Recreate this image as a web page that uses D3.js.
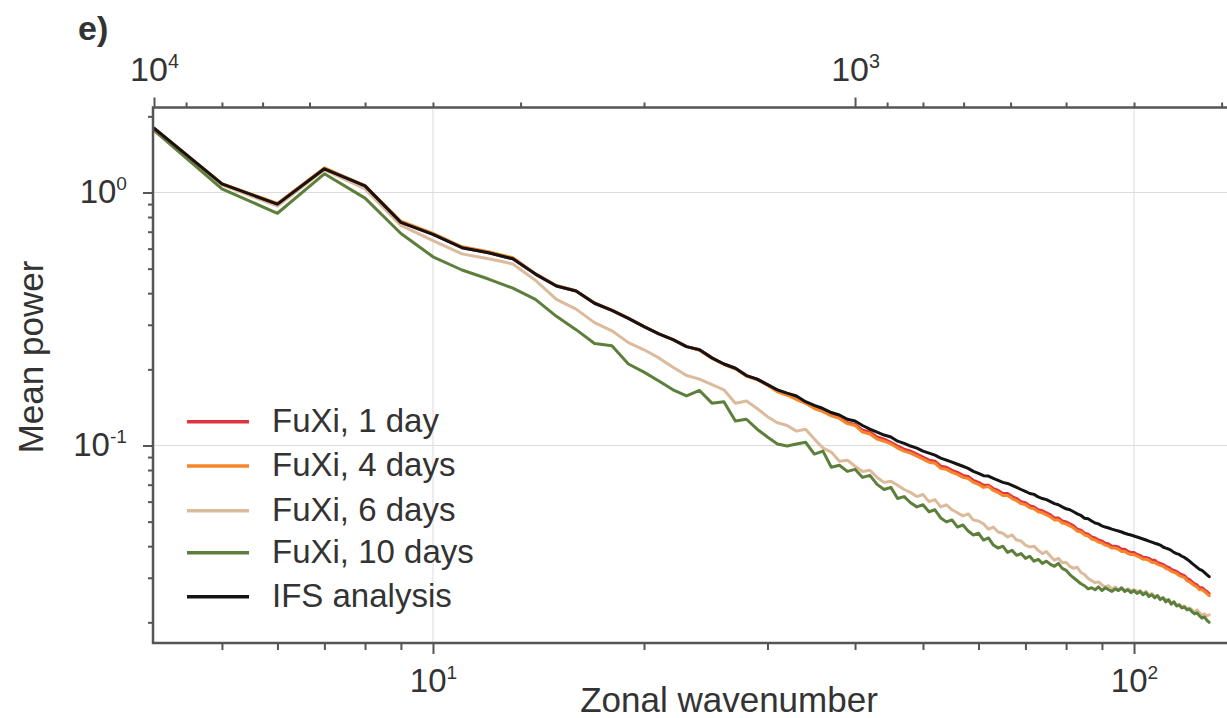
<!DOCTYPE html>
<html><head><meta charset="utf-8">
<script src="https://cdn.jsdelivr.net/npm/d3@7"></script>
<style>
body{margin:0;background:#fff}
svg{display:block}
text{font-family:"Liberation Sans",Arial,Helvetica,sans-serif;fill:#333}
</style>
</head><body>
<svg id="chart" width="1227" height="718"></svg>
<script>
// ---------- DATA ----------
const wavenumbers = [4,5,6,7,8,9,10,11,12,13,14,15,16,17,18,19,20,21,22,23,24,25,26,27,28,29,30,
31,32,33,34,35,36,37,38,39,40,41,42,43,44,45,46,47,48,49,50,51,52,53,54,55,56,57,58,59,60,
61,62,63,64,65,66,67,68,69,70,71,72,73,74,75,76,77,78,79,80,81,82,83,84,85,86,87,88,89,90,
91,92,93,94,95,96,97,98,99,100,101,102,103,104,105,106,107,108,109,110,111,112,113,114,115,116,117,118,119,120,
121,122,123,124,125,126,127,128];

const fuxi1day = [1.795,1.082,0.900,1.241,1.062,0.762,0.683,0.605,0.578,0.547,0.476,0.427,0.408,0.365,0.342,0.318,0.295,0.276,0.262,0.246,0.239,0.222,0.210,0.202,0.189,0.183,0.174,
0.165,0.160,0.153,0.147,0.142,0.137,0.132,0.129,0.123,0.121,
0.115,0.113,0.108,0.106,0.103,0.0995,0.0968,0.0950,0.0925,0.0900,
0.0875,0.0867,0.0828,0.0820,0.0798,0.0783,0.0762,0.0755,0.0728,0.0715,
0.0696,0.0696,0.0676,0.0664,0.0646,0.0646,0.0628,0.0617,0.0600,0.0594,
0.0578,0.0572,0.0557,0.0552,0.0542,0.0532,0.0517,0.0517,0.0503,0.0499,
0.0490,0.0481,0.0467,0.0463,0.0450,0.0446,0.0435,0.0431,0.0423,0.0419,
0.0411,0.0408,0.0400,0.0400,0.0397,0.0389,0.0389,0.0381,0.0378,0.0378,
0.0371,0.0368,0.0361,0.0361,0.0358,0.0352,0.0352,0.0345,0.0342,0.0339,
0.0333,0.0330,0.0324,0.0321,0.0318,0.0312,0.0309,0.0306,0.0298,0.0295,
0.0289,0.0284,0.0281,0.0274,0.0274,0.0269,0.0265,0.0260];

const fuxi4days = [1.790,1.085,0.905,1.250,1.065,0.770,0.690,0.610,0.583,0.552,0.478,0.429,0.409,0.366,0.343,0.319,0.296,0.276,0.262,0.246,0.238,0.221,0.209,0.201,0.188,0.182,0.173,
0.163,0.158,0.152,0.147,0.140,0.136,0.131,0.128,0.122,0.120,
0.113,0.111,0.106,0.104,0.1014,0.0977,0.0950,0.0933,0.0908,0.0883,
0.0859,0.0851,0.0812,0.0805,0.0783,0.0769,0.0748,0.0741,0.0715,0.0702,
0.0683,0.0688,0.0664,0.0652,0.0634,0.0634,0.0617,0.0605,0.0589,0.0583,
0.0567,0.0562,0.0547,0.0542,0.0532,0.0522,0.0508,0.0508,0.0494,0.0490,
0.0481,0.0472,0.0459,0.0455,0.0443,0.0439,0.0427,0.0423,0.0415,0.0411,
0.0404,0.0400,0.0393,0.0393,0.0389,0.0381,0.0381,0.0374,0.0371,0.0371,
0.0365,0.0361,0.0355,0.0355,0.0352,0.0345,0.0345,0.0339,0.0336,0.0333,
0.0327,0.0324,0.0318,0.0315,0.0312,0.0306,0.0303,0.0301,0.0292,0.0289,
0.0284,0.0279,0.0276,0.0269,0.0269,0.0265,0.0260,0.0255];

const fuxi6days = [1.795,1.072,0.883,1.230,1.033,0.741,0.646,0.572,0.547,0.522,
0.450,0.378,0.346,0.306,0.284,0.255,0.239,0.222,0.204,0.189,
0.183,0.174,0.166,0.147,0.150,0.140,0.130,0.123,0.120,0.114,
0.116,0.106,0.0977,0.0942,0.0867,0.0875,0.0828,0.0790,0.0798,0.0748,
0.0715,0.0722,0.0696,0.0670,0.0652,0.0628,0.0640,0.0600,0.0611,0.0572,
0.0583,0.0557,0.0542,0.0527,0.0537,0.0508,0.0503,0.0490,0.0467,0.0476,
0.0455,0.0450,0.0435,0.0443,0.0423,0.0419,0.0404,0.0397,0.0400,0.0385,
0.0374,0.0381,0.0365,0.0352,0.0358,0.0345,0.0345,0.0333,0.0327,0.0330,
0.0315,0.0309,0.0298,0.0292,0.0287,0.0289,0.0281,0.0276,0.0279,0.0271,
0.0276,0.0269,0.0271,0.0267,0.0271,0.0267,0.0269,0.0265,0.0267,0.0260,
0.0265,0.0257,0.0260,0.0253,0.0255,0.0248,0.0250,0.0246,0.0243,0.0239,
0.0241,0.0234,0.0236,0.0230,0.0232,0.0226,0.0228,0.0224,0.0220,0.0224,
0.0218,0.0214,0.0216,0.0212,0.0214];

const fuxi10days = [1.762,1.033,0.828,1.186,0.950,0.689,0.557,0.494,0.455,0.419,
0.378,0.324,0.287,0.253,0.248,0.210,0.195,0.180,0.166,0.157,
0.165,0.147,0.149,0.125,0.127,0.116,0.108,0.1014,0.0995,0.1014,
0.103,0.0925,0.0950,0.0820,0.0835,0.0790,0.0805,0.0748,0.0762,0.0702,
0.0670,0.0683,0.0617,0.0628,0.0594,0.0572,0.0583,0.0547,0.0557,0.0517,
0.0499,0.0508,0.0476,0.0485,0.0459,0.0443,0.0450,0.0423,0.0431,0.0404,
0.0393,0.0400,0.0378,0.0385,0.0368,0.0374,0.0358,0.0365,0.0349,0.0355,
0.0342,0.0349,0.0339,0.0333,0.0342,0.0327,0.0321,0.0309,0.0300,0.0292,
0.0284,0.0279,0.0271,0.0274,0.0269,0.0276,0.0267,0.0274,0.0269,0.0265,
0.0271,0.0267,0.0274,0.0265,0.0269,0.0262,0.0267,0.0260,0.0265,0.0257,
0.0262,0.0253,0.0257,0.0250,0.0255,0.0246,0.0250,0.0241,0.0246,0.0236,
0.0241,0.0232,0.0234,0.0228,0.0230,0.0224,0.0226,0.0220,0.0216,0.0218,
0.0212,0.0208,0.0210,0.0204,0.0200];

const ifsAnalysis = [1.795,1.082,0.900,1.241,1.062,0.762,0.683,0.605,0.578,0.547,
0.476,0.427,0.408,0.365,0.342,0.318,0.295,0.276,0.262,0.246,
0.239,0.222,0.210,0.202,0.189,0.183,0.174,0.166,0.161,0.157,
0.149,0.144,0.140,0.135,0.132,0.127,0.125,0.120,0.116,0.113,
0.110,0.108,0.104,0.102,0.0995,0.0977,0.0950,0.0933,0.0916,0.0892,
0.0875,0.0859,0.0843,0.0828,0.0812,0.0790,0.0776,0.0760,0.0757,0.0741,
0.0728,0.0715,0.0708,0.0696,0.0683,0.0670,0.0658,0.0646,0.0641,0.0626,
0.0617,0.0611,0.0600,0.0589,0.0583,0.0572,0.0562,0.0557,0.0547,0.0537,
0.0529,0.0516,0.0513,0.0503,0.0494,0.0490,0.0481,0.0476,0.0472,0.0467,
0.0463,0.0459,0.0455,0.0450,0.0446,0.0443,0.0439,0.0435,0.0431,0.0427,
0.0423,0.0419,0.0415,0.0411,0.0408,0.0404,0.0397,0.0393,0.0390,0.0385,
0.0378,0.0374,0.0371,0.0365,0.0361,0.0355,0.0349,0.0342,0.0336,0.0330,
0.0324,0.0321,0.0315,0.0309,0.0303];

const seriesNames = ["FuXi, 1 day","FuXi, 4 days","FuXi, 6 days","FuXi, 10 days","IFS analysis"];
const seriesColors = ["#df3441","#f7862a","#dbbb9c","#5d7f3c","#141414"];
const seriesValues = [fuxi1day, fuxi4days, fuxi6days, fuxi10days, ifsAnalysis];
const drawOrder = [2,3,0,1,4];

const xMajorTicks = [10,100];
const xMinorTicks = [5,6,7,8,9,20,30,40,50,60,70,80,90];
const topMajorTicks = [10000,1000];
const topMinorTicks = [9000,8000,7000,6000,5000,4000,3000,2000,900,800,700,600,500,400,300];
const yMajorTicks = [1,0.1];
const yMinorTicks = [2,0.9,0.8,0.7,0.6,0.5,0.4,0.3,0.2,0.09,0.08,0.07,0.06,0.05,0.04,0.03,0.02];

// ---------- LAYOUT ----------
const L = 153, T = 107.5, B = 643, R = 1304;
const svg = d3.select("#chart");
const x = d3.scaleLog().domain([4,175]).range([154,1304.4]);
const xTop = d3.scaleLog().domain([10000,40000/175]).range([154,1304.4]);
const y = d3.scaleLog().domain([0.01657,2.168]).range([B,T]);

const axisColor = "#555";

// grid
const grid = svg.append("g").attr("stroke","#dcdcdc").attr("stroke-width",1);
xMajorTicks.forEach(v=>grid.append("line").attr("x1",x(v)).attr("x2",x(v)).attr("y1",T).attr("y2",B));
yMajorTicks.forEach(v=>grid.append("line").attr("x1",L).attr("x2",R).attr("y1",y(v)).attr("y2",y(v)));

// lines
svg.append("clipPath").attr("id","clip").append("rect").attr("x",L).attr("y",T).attr("width",R-L).attr("height",B-T);
const line = d3.line().x((d,i)=>x(wavenumbers[i])).y(d=>y(d));
const lines = svg.append("g").attr("clip-path","url(#clip)");
drawOrder.forEach(s=>{
  lines.append("path").datum(seriesValues[s]).attr("d",line)
    .attr("fill","none").attr("stroke",seriesColors[s]).attr("stroke-width",3)
    .attr("stroke-linejoin","round").attr("stroke-linecap","round");
});

// axes helpers
function styleAxis(g){
  g.select(".domain").remove();
  g.selectAll(".tick line").attr("stroke",axisColor).attr("stroke-width",2);
}
function supLabel(sel, base, exp, fs){
  sel.append("tspan").text(base);
  sel.append("tspan").attr("dy",-13).attr("font-size",fs*0.58).text(exp);
}

// bottom axis
svg.append("g").attr("transform",`translate(0,${B})`)
  .call(d3.axisBottom(x).tickValues(xMinorTicks).tickSize(7).tickFormat(""))
  .call(styleAxis);
svg.append("g").attr("transform",`translate(0,${B})`)
  .call(d3.axisBottom(x).tickValues(xMajorTicks).tickSize(11).tickFormat(""))
  .call(styleAxis)
  .selectAll(".tick").each(function(d){
    const t = d3.select(this).append("text").attr("y",49).attr("text-anchor","middle")
      .attr("font-size",33).attr("fill","#333");
    supLabel(t,"10",String(Math.round(Math.log10(d))),33);
  });

// top axis
svg.append("g").attr("transform",`translate(0,${T})`)
  .call(d3.axisTop(xTop).tickValues(topMinorTicks).tickSize(5).tickFormat(""))
  .call(styleAxis);
svg.append("g").attr("transform",`translate(0,${T})`)
  .call(d3.axisTop(xTop).tickValues(topMajorTicks).tickSize(10).tickFormat(""))
  .call(styleAxis)
  .selectAll(".tick").each(function(d){
    const t = d3.select(this).append("text").attr("y",-27).attr("text-anchor","middle")
      .attr("font-size",34).attr("fill","#333");
    supLabel(t,"10",String(Math.round(Math.log10(d))),34);
  });

// left axis
svg.append("g").attr("transform",`translate(${L},0)`)
  .call(d3.axisLeft(y).tickValues(yMinorTicks).tickSize(5).tickFormat(""))
  .call(styleAxis);
svg.append("g").attr("transform",`translate(${L},0)`)
  .call(d3.axisLeft(y).tickValues(yMajorTicks).tickSize(10).tickFormat(""))
  .call(styleAxis)
  .selectAll(".tick").each(function(d){
    const t = d3.select(this).append("text").attr("x",-26).attr("y",10).attr("text-anchor","end")
      .attr("font-size",33).attr("fill","#333");
    supLabel(t,"10",String(Math.round(Math.log10(d))),33);
  });

// frame
svg.append("rect").attr("x",L).attr("y",T).attr("width",R-L).attr("height",B-T)
  .attr("fill","none").attr("stroke",axisColor).attr("stroke-width",2.5);

// axis titles
svg.append("text").attr("x",729).attr("y",712).attr("text-anchor","middle")
  .attr("font-size",35).text("Zonal wavenumber");
svg.append("text").attr("transform","translate(43,357) rotate(-90)").attr("text-anchor","middle")
  .attr("font-size",35).text("Mean power");

// panel label
svg.append("text").attr("x",78).attr("y",40).attr("font-size",34).attr("font-weight","bold")
  .attr("fill","#222").text("e)");

// legend
const legendY = [421.7,466,510.7,552.7,596.7];
const lg = svg.append("g");
seriesNames.forEach((n,i)=>{
  lg.append("line").attr("x1",187).attr("x2",249).attr("y1",legendY[i]).attr("y2",legendY[i])
    .attr("stroke",seriesColors[i]).attr("stroke-width",3.5);
  lg.append("text").attr("x",272).attr("y",legendY[i]+10).attr("font-size",33).text(n);
});
</script>
</body></html>
